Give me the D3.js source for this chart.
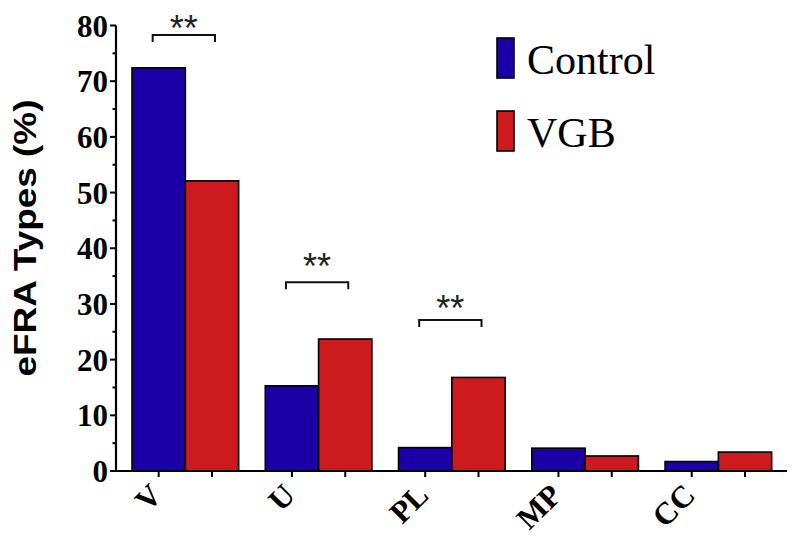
<!DOCTYPE html>
<html>
<head>
<meta charset="utf-8">
<script src="https://cdn.jsdelivr.net/npm/d3@7"></script>
<style>
  html, body { margin: 0; padding: 0; background: #fff; }
  svg { display: block; }
</style>
</head>
<body>
<svg id="chart" width="800" height="552"></svg>
<script>
// ---- data ----
const categories = ["V", "U", "PL", "MP", "CC"];
const seriesNames = ["Control", "VGB"];
const controlValues = [72.4, 15.3, 4.2, 4.1, 1.7];
const vgbValues = [52.1, 23.7, 16.8, 2.7, 3.4];
const yTicks = [0, 10, 20, 30, 40, 50, 60, 70, 80];
const yMinorTicks = [5, 15, 25, 35, 45, 55, 65, 75];
const sigCategories = ["V", "U", "PL"];
const sigLabels = ["**", "**", "**"];
const sigBracketLevels = [78.3, 33.9, 27.1];
const sigStarLevels = [79.8, 37.0, 29.5];
const colors = ["#1b00a8", "#cc1a1f"];

// ---- layout ----
const svg = d3.select("#chart");
const axisX = 116, y0px = 471, y80px = 25.5;

const x0 = d3.scaleBand().domain(categories).range([118.7, 785]).paddingInner(0.2).paddingOuter(0.1);
const x1 = d3.scaleBand().domain(seriesNames).range([0, x0.bandwidth()]).padding(0);
const y = d3.scaleLinear().domain([0, 80]).range([y0px, y80px]);

const rows = categories.map((c, i) => ({ cat: c, vals: [controlValues[i], vgbValues[i]] }));

// bars
const groups = svg.append("g").selectAll("g").data(rows).join("g")
  .attr("transform", d => `translate(${x0(d.cat)},0)`);
groups.selectAll("rect").data(d => d.vals.map((v, j) => ({ name: seriesNames[j], v, j })))
  .join("rect")
  .attr("x", d => x1(d.name))
  .attr("width", x1.bandwidth())
  .attr("y", d => y(d.v))
  .attr("height", d => y(0) - y(d.v))
  .attr("fill", d => colors[d.j])
  .attr("stroke", "#000")
  .attr("stroke-width", 1.6);

// y axis
const yAxis = svg.append("g").attr("transform", `translate(${axisX},0)`);
yAxis.append("line").attr("x1", 0).attr("x2", 0).attr("y1", y(80)).attr("y2", y(0) + 1)
  .attr("stroke", "#000").attr("stroke-width", 2.2);
yAxis.selectAll("line.major").data(yTicks).join("line").attr("class", "major")
  .attr("x1", -6).attr("x2", 0).attr("y1", d => y(d)).attr("y2", d => y(d))
  .attr("stroke", "#000").attr("stroke-width", 2);
yAxis.selectAll("line.minor").data(yMinorTicks).join("line").attr("class", "minor")
  .attr("x1", -3.5).attr("x2", 0).attr("y1", d => y(d)).attr("y2", d => y(d))
  .attr("stroke", "#000").attr("stroke-width", 2);
yAxis.selectAll("text").data(yTicks).join("text")
  .attr("x", -8).attr("y", d => y(d)).attr("dy", "0.36em")
  .attr("text-anchor", "end")
  .attr("font-family", "'Liberation Serif', 'Times New Roman', serif")
  .attr("font-weight", "bold").attr("font-size", 31)
  .text(d => d);

// y title
svg.append("text")
  .attr("transform", "translate(36,238) rotate(-90)")
  .attr("text-anchor", "middle")
  .attr("font-family", "'Liberation Sans', Arial, sans-serif")
  .attr("font-weight", "bold").attr("font-size", 31)
  .attr("textLength", 277).attr("lengthAdjust", "spacingAndGlyphs")
  .text("eFRA Types (%)");

// x axis
const xAxis = svg.append("g");
xAxis.append("line").attr("x1", axisX - 1).attr("x2", 787).attr("y1", y(0)).attr("y2", y(0))
  .attr("stroke", "#000").attr("stroke-width", 2.2);
const tickXs = [];
rows.forEach(r => seriesNames.forEach(s => tickXs.push(x0(r.cat) + x1(s) + x1.bandwidth() / 2)));
xAxis.selectAll("line.tick").data(tickXs).join("line").attr("class", "tick")
  .attr("x1", d => d).attr("x2", d => d).attr("y1", y(0)).attr("y2", y(0) + 6)
  .attr("stroke", "#000").attr("stroke-width", 2);
xAxis.selectAll("text").data(categories).join("text")
  .attr("transform", d => `translate(${x0(d) + x1("Control") + x1.bandwidth() / 2 + 5},497) rotate(-45)`)
  .attr("text-anchor", "end")
  .attr("font-family", "'Liberation Serif', 'Times New Roman', serif")
  .attr("font-weight", "bold").attr("font-size", 31)
  .text(d => d);

// significance brackets
const sig = sigCategories.map((c, i) => ({ c, label: sigLabels[i], b: sigBracketLevels[i], s: sigStarLevels[i] }));
const sigG = svg.append("g");
sig.forEach(d => {
  const xl = x0(d.c) + x1("Control") + x1.bandwidth() / 2 - 6;
  const xr = x0(d.c) + x1("VGB") + x1.bandwidth() / 2 + 3;
  const yb = y(d.b);
  sigG.append("path")
    .attr("d", `M${xl},${yb + 7}V${yb}H${xr}V${yb + 7}`)
    .attr("fill", "none").attr("stroke", "#111").attr("stroke-width", 2);
  sigG.append("text")
    .attr("x", (xl + xr) / 2).attr("y", y(d.s) + 14)
    .attr("text-anchor", "middle")
    .attr("font-family", "'Liberation Sans', Arial, sans-serif")
    .attr("font-size", 36).attr("fill", "#222")
    .text(d.label);
});

// legend
const legend = svg.append("g");
const legY = [38, 111];
seriesNames.forEach((s, i) => {
  legend.append("rect").attr("x", 497).attr("y", legY[i]).attr("width", 17).attr("height", 40)
    .attr("fill", colors[i]).attr("stroke", "#000").attr("stroke-width", 1.6);
  legend.append("text").attr("x", 527).attr("y", legY[i] + 35.5)
    .attr("font-family", "'Liberation Serif', 'Times New Roman', serif")
    .attr("font-size", 42).attr("fill", "#000")
    .text(s);
});
</script>
</body>
</html>
